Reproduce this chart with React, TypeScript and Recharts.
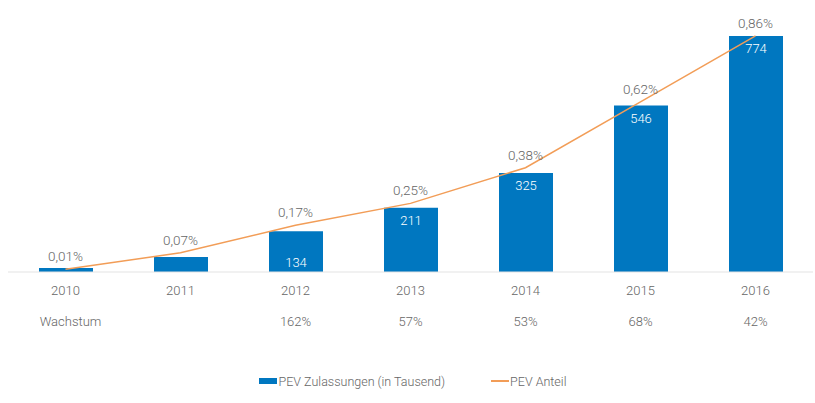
import { ComposedChart, Bar, Line, XAxis, YAxis, LabelList, Legend } from "recharts";

const years = ["2010", "2011", "2012", "2013", "2014", "2015", "2016"];
const zulassungen = [13, 49, 134, 211, 325, 546, 774];
const anteil = [0.01, 0.07, 0.17, 0.25, 0.38, 0.62, 0.86];
const wachstum = [null, null, 162, 57, 53, 68, 42];
const wachstumLabel = "Wachstum";

const data = years.map((year, i) => ({
  year,
  zul: zulassungen[i],
  anteil: anteil[i],
}));

const BLUE = "#0077C0";
const ORANGE = "#F29D57";
const GRAY = "#666";
const FONT = "Roboto, 'Liberation Sans', sans-serif";
const BAR_MAX = 800;

const BarLabel = (props: any) => {
  const { x, y, width, height, value } = props;
  if (height < 30) return null;
  // short bars carry their number at the foot, tall ones at the top
  const ty = height < 50 ? y + height - 10 : y + 13;
  return (
    <text x={x + width / 2} y={ty} fill="#fff" fontSize={13} fontWeight={300} textAnchor="middle" dominantBaseline="central" fontFamily={FONT}>
      {value}
    </text>
  );
};

const GrowthTick = (props: any) => {
  const { x, y, index } = props;
  const v = wachstum[index];
  const label = index === 0 ? wachstumLabel : v == null ? "" : `${v}%`;
  return (
    <text x={index === 0 ? x + 5 : x} y={y + 11} fill={GRAY} fontSize={13} fontWeight={300} textAnchor="middle" dominantBaseline="central" fontFamily={FONT}>
      {label}
    </text>
  );
};

const renderLegend = () => (
  <div style={{ display: "flex", justifyContent: "center", alignItems: "center", height: 20, fontFamily: FONT, fontSize: 12.5, fontWeight: 300, color: GRAY, paddingLeft: 10 }}>
    <span style={{ display: "inline-block", width: 18, height: 6, background: BLUE, marginRight: 2 }} />
    <span>PEV Zulassungen (in Tausend)</span>
    <span style={{ display: "inline-block", width: 18, height: 1.5, background: ORANGE, marginLeft: 46, marginRight: 1 }} />
    <span>PEV Anteil</span>
  </div>
);

export default function App() {
  return (
    <div style={{ position: "absolute", left: 0, top: 0, background: "#fff" }}>
      <ComposedChart width={815} height={403} data={data} margin={{ top: 28, right: 2, bottom: 45, left: 8 }}>
        <XAxis
          dataKey="year"
          axisLine={{ stroke: "#e3e3e3" }}
          tickLine={false}
          tickSize={0}
          tickMargin={14}
          height={36}
          tick={{ fill: GRAY, fontSize: 13, fontWeight: 300, fontFamily: FONT }}
        />
        <XAxis xAxisId="w" dataKey="year" axisLine={false} tickLine={false} tickSize={0} height={30} tick={<GrowthTick />} />
        <YAxis yAxisId="l" hide domain={[0, BAR_MAX]} />
        <YAxis yAxisId="r" hide domain={[0, BAR_MAX / 900]} />
        <Bar yAxisId="l" dataKey="zul" fill={BLUE} barSize={54} isAnimationActive={false}>
          <LabelList dataKey="zul" content={<BarLabel />} />
        </Bar>
        <Line yAxisId="r" type="linear" dataKey="anteil" stroke={ORANGE} strokeWidth={1.5} dot={false} isAnimationActive={false}>
          <LabelList
            dataKey="anteil"
            position="top"
            offset={8}
            fill={GRAY}
            fontSize={13.5}
            fontWeight={300}
            fontFamily={FONT}
            formatter={(v: any) => `${Number(v).toFixed(2).replace(".", ",")}%`}
          />
        </Line>
        <Legend content={renderLegend} wrapperStyle={{ top: 371, bottom: "auto", left: 0, width: 815 }} />
      </ComposedChart>
    </div>
  );
}
